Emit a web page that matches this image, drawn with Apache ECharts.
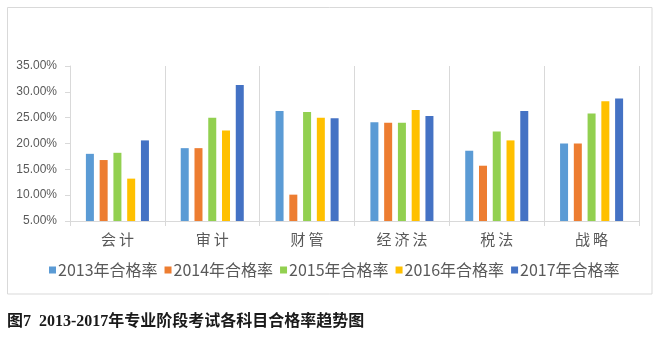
<!DOCTYPE html>
<html>
<head>
<meta charset="utf-8">
<script src="https://cdn.jsdelivr.net/npm/echarts@6/dist/echarts.min.js"></script>
<style>
html,body{margin:0;padding:0;background:#fff;}
#chart{width:657px;height:343px;}
</style>
</head>
<body>
<div id="chart"></div>
<script>
const categories = ['会计', '审计', '财管', '经济法', '税法', '战略'];
const seriesNames = ['2013年合格率', '2014年合格率', '2015年合格率', '2016年合格率', '2017年合格率'];
const rate2013 = [18.0, 19.1, 26.3, 24.1, 18.6, 20.0];
const rate2014 = [16.8, 19.1, 10.1, 24.0, 15.7, 20.0];
const rate2015 = [18.2, 25.0, 26.1, 24.0, 22.3, 25.8];
const rate2016 = [13.2, 22.5, 25.0, 26.5, 20.6, 28.2];
const rate2017 = [20.6, 31.3, 24.9, 25.3, 26.3, 28.7];
const captionText = '图7  2013-2017年专业阶段考试各科目合格率趋势图';

const colors = ['#5B9BD5', '#ED7D31', '#92D050', '#FFC000', '#4472C4'];
const allData = [rate2013, rate2014, rate2015, rate2016, rate2017];

const chart = echarts.init(document.getElementById('chart'), null, {renderer: 'canvas'});
const textColor = '#595959';
const lineColor = '#D9D9D9';
const font = '"Noto Sans CJK SC", "Noto Sans", sans-serif';

chart.setOption({
  animation: false,
  backgroundColor: '#fff',
  color: colors,
  title: {
    text: captionText,
    left: 2,
    top: 309,
    textStyle: {
      fontFamily: '"Liberation Serif", "Noto Sans CJK SC", serif',
      fontSize: 16,
      fontWeight: 'bold',
      color: '#1a1a1a'
    }
  },
  graphic: [{
    type: 'rect',
    shape: {x: 7.5, y: 7.5, width: 644.5, height: 286.5},
    style: {fill: 'none', stroke: lineColor, lineWidth: 1},
    silent: true
  }],
  legend: {
    data: seriesNames,
    left: 49,
    top: 262,
    padding: 0,
    icon: 'rect',
    itemWidth: 7,
    itemHeight: 7,
    itemGap: 7,
    textStyle: {color: textColor, fontSize: 16, fontFamily: font, padding: [0, 0, 0, -3]}
  },
  grid: {left: 70, right: 18, top: 66, bottom: 122, containLabel: false},
  xAxis: {
    type: 'category',
    data: categories,
    axisLine: {show: true, lineStyle: {color: lineColor}},
    axisTick: {show: true, length: 5, lineStyle: {color: lineColor}},
    splitLine: {show: true, lineStyle: {color: lineColor}},
    axisLabel: {
      color: textColor,
      fontSize: 15,
      fontFamily: font,
      margin: 11,
      formatter: v => v.split('').join('\u2009')
    }
  },
  yAxis: {
    type: 'value',
    min: 5,
    max: 35,
    interval: 5,
    axisLine: {show: true, lineStyle: {color: lineColor}},
    axisTick: {show: true, length: 5, lineStyle: {color: lineColor}},
    splitLine: {show: false},
    axisLabel: {
      color: textColor,
      fontSize: 12,
      fontFamily: '"Liberation Sans", sans-serif',
      margin: 13,
      formatter: v => v.toFixed(2) + '%'
    }
  },
  series: seriesNames.map((name, i) => ({
    name: name,
    type: 'bar',
    data: allData[i],
    barWidth: 8,
    barGap: '72%',
    itemStyle: {color: colors[i]}
  }))
});
</script>
</body>
</html>
